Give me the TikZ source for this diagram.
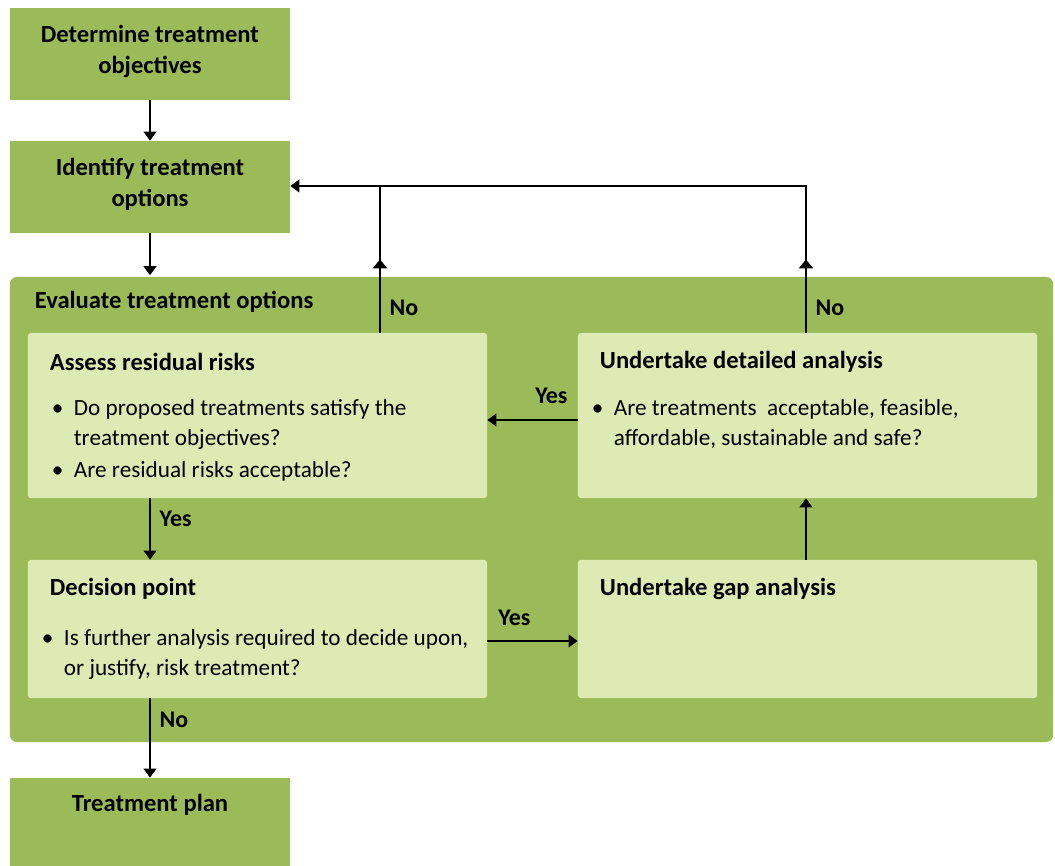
\documentclass[tikz,border=0pt]{standalone}
\usepackage{fontspec}
\setmainfont{Carlito}
\usetikzlibrary{arrows.meta,decorations.markings}
\definecolor{leaf}{HTML}{9BBB59}
\definecolor{pale}{HTML}{DDEAB4}
\tikzset{
	darkbox/.style={fill=leaf, inner sep=0pt, minimum width=7cm},
	palebox/.style={fill=pale, rounded corners=2pt, inner sep=0pt, minimum width=11.475cm},
	head/.style={font=\fontsize{17.5}{22}\selectfont\bfseries, inner sep=0pt},
	bullets/.style={font=\fontsize{16.5}{21.5}\selectfont, inner sep=0pt, anchor=north west},
	flow/.style={draw, line width=1.8pt, -{Triangle[width=9pt,length=6.5pt]}},
	midflow/.style={draw, line width=1.8pt, postaction={decorate},
		decoration={markings, mark=at position 0.5 with {\arrow{Triangle[width=10pt,length=6.5pt]}}}},
	answer/.style={font=\fontsize{17}{21}\selectfont\bfseries, inner sep=2pt}
}
\begin{document}
\begin{tikzpicture}[x=0.025cm, y=-0.025cm]
	\useasboundingbox (0,0) rectangle (1055,866);
	
	% steps outside the evaluation
	\node[darkbox, minimum height=2.3cm] (objectives) at (150,54) {};
	\node[head, align=center, anchor=north] at ([shift={(0,17)}]objectives.north) {Determine treatment\\objectives};
	\node[darkbox, minimum height=2.3cm] (options) at (150,187) {};
	\node[head, align=center, anchor=north] at ([shift={(0,17)}]options.north) {Identify treatment\\options};
	\node[darkbox, minimum height=2.2cm] (plan) at (150,822) {};
	\node[head, anchor=north] at ([shift={(0,16)}]plan.north) {Treatment plan};
	
	% evaluation block
	\node[darkbox, rounded corners=5pt, minimum width=26.075cm, minimum height=11.625cm] (evaluate) at (531.5,509.5) {};
	\node[head, anchor=west] at ([shift={(25,25)}]evaluate.north west) {Evaluate treatment options};
	
	\node[palebox, minimum height=4.125cm] (assess) at (257.5,415.5) {};
	\node[head, anchor=west] at ([shift={(22,29)}]assess.north west) {Assess residual risks};
	\node[bullets] at ([shift={(24,61)}]assess.north west) {\begin{tabular}{@{}p{0.55cm}@{}l@{}}
		\textbullet & Do proposed treatments satisfy the\\
		 & treatment objectives?\\[1.5pt]
		\textbullet & Are residual risks acceptable?
	\end{tabular}};
	
	\node[palebox, minimum height=4.125cm] (detailed) at (807.5,415.5) {};
	\node[head, anchor=west] at ([shift={(22,29)}]detailed.north west) {Undertake detailed analysis};
	\node[bullets] at ([shift={(14,61)}]detailed.north west) {\begin{tabular}{@{}p{0.55cm}@{}l@{}}
		\textbullet & Are treatments\ \ acceptable, feasible,\\
		 & affordable, sustainable and safe?
	\end{tabular}};
	
	\node[palebox, minimum height=3.45cm] (decision) at (257.5,629) {};
	\node[head, anchor=west] at ([shift={(22,29)}]decision.north west) {Decision point};
	\node[bullets] at ([shift={(14,64)}]decision.north west) {\begin{tabular}{@{}p{0.55cm}@{}l@{}}
		\textbullet & Is further analysis required to decide upon,\\
		 & or justify, risk treatment?
	\end{tabular}};
	
	\node[palebox, minimum height=3.45cm] (gap) at (807.5,629) {};
	\node[head, anchor=west] at ([shift={(22,29)}]gap.north west) {Undertake gap analysis};
	
	% connectors
	\coordinate (backL) at (380,186);
	\coordinate (backR) at (806,186);
	\draw[flow] (objectives) -- (options);
	\draw[flow] (options.south) -- ([yshift=1pt]evaluate.north -| options.south);
	\draw[midflow] (assess.north -| backL) -- node[answer, right, pos=0.17, xshift=4pt]{No} (backL);
	\draw[midflow] (detailed.north -| backR) -- node[answer, right, pos=0.17, xshift=4pt]{No} (backR);
	\draw[line width=1.8pt, line cap=rect] (backR) -- (backL);
	\draw[flow] (backL) -- (options.east |- backL);
	\draw[flow] (detailed.west |- 0,420) -- node[answer, above, pos=0.29, yshift=9pt]{Yes} (assess.east |- 0,420);
	\draw[flow] (assess.south -| options) -- node[answer, right, pos=0.33, xshift=4pt]{Yes} (decision.north -| options);
	\draw[flow] (decision.east |- 0,641) -- node[answer, above, pos=0.3, yshift=8pt]{Yes} (gap.west |- 0,641);
	\draw[flow] (gap.north -| backR) -- (detailed.south -| backR);
	\draw[flow] (decision.south -| options) -- node[answer, right, pos=0.27, xshift=4pt]{No} (plan.north);
\end{tikzpicture}
\end{document}
